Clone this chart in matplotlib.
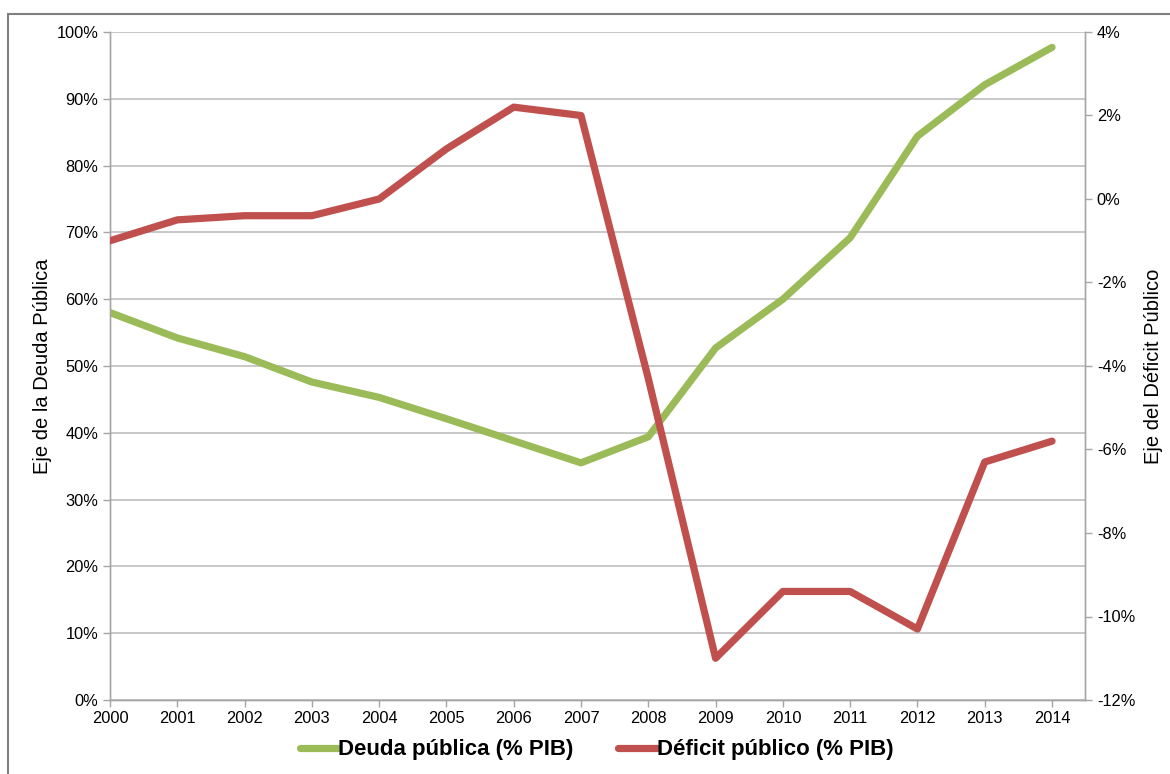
import matplotlib
matplotlib.use("Agg")
import matplotlib.pyplot as plt
from matplotlib.patches import Rectangle
from matplotlib.ticker import FuncFormatter

years = [2000, 2001, 2002, 2003, 2004, 2005, 2006, 2007, 2008, 2009, 2010, 2011, 2012, 2013, 2014]
deuda = [58.0, 54.2, 51.4, 47.6, 45.3, 42.1, 38.8, 35.5, 39.4, 52.7, 60.0, 69.2, 84.4, 92.1, 97.7]
deficit = [-1.0, -0.5, -0.4, -0.4, 0.0, 1.2, 2.2, 2.0, -4.3, -11.0, -9.4, -9.4, -10.3, -6.3, -5.8]

green = "#9BBB59"
red = "#C0504D"
gray = "#A6A6A6"

plt.rcParams['font.family'] = ['Liberation Sans', 'DejaVu Sans']

fig = plt.figure(figsize=(11.7, 7.74), dpi=100)
ax = fig.add_axes([110/1170, 74/774, 975/1170, 668/774])
ax2 = ax.twinx()

l1, = ax.plot(years, deuda, color=green, lw=5.2, solid_capstyle='round', solid_joinstyle='round', zorder=3)
l2, = ax2.plot(years, deficit, color=red, lw=5.2, solid_capstyle='round', solid_joinstyle='round', zorder=3)

ax.set_xlim(2000, 2014.49)
ax.set_ylim(0, 100)
ax2.set_ylim(-12, 4)
ax.set_xticks(years)
ax.set_xticklabels([str(y) for y in years])
ax.set_yticks(range(0, 101, 10))
ax2.set_yticks(range(-12, 5, 2))
ax.yaxis.set_major_formatter(FuncFormatter(lambda v, p: f"{v:.0f}%"))
ax2.yaxis.set_major_formatter(FuncFormatter(lambda v, p: f"{v:.0f}%"))

ax.grid(axis='y', color='#BFBFBF', lw=1.2)
ax.set_axisbelow(True)

for a in (ax, ax2):
    for s in a.spines.values():
        s.set_color(gray)
        s.set_linewidth(1.0)
    a.spines['top'].set_visible(False)
    a.tick_params(colors=gray, labelcolor='black', labelsize=11.8, length=5, width=1.0, direction='out')
ax.tick_params(axis='x', pad=3)

ax.set_ylabel("Eje de la Deuda Pública", fontsize=14.5, labelpad=3)
ax2.set_ylabel("Eje del Déficit Público", fontsize=14.5, labelpad=6)

fig.legend([l1, l2], ["Deuda pública (% PIB)", "Déficit público (% PIB)"],
           loc='center', bbox_to_anchor=(0.51, 24/774), ncol=2, frameon=False,
           handlelength=1.75, handletextpad=0.0, columnspacing=2.0,
           prop={'family': ['Liberation Sans', 'DejaVu Sans'], 'weight': 'bold', 'size': 16})

fig.patches.append(Rectangle((8/1170, -0.1), 1.2, (774-14)/774 + 0.1, transform=fig.transFigure,
                             fill=False, edgecolor='#808080', lw=1.5))

fig.savefig("out.png", dpi=100)
